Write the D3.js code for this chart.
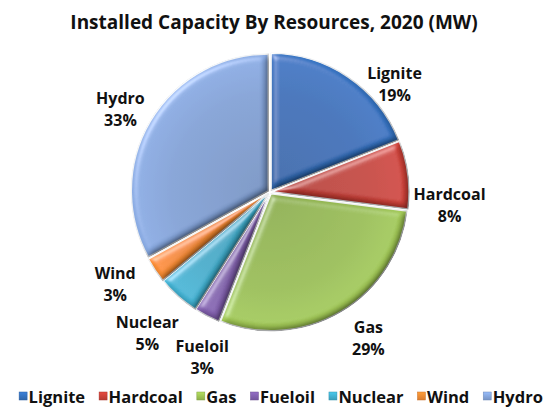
<!DOCTYPE html>
<html><head><meta charset="utf-8">
<script src="https://cdn.jsdelivr.net/npm/d3@7/dist/d3.min.js"></script>
<style>
html,body{margin:0;padding:0;background:#fff;}
svg{display:block;}
text{font-family:"Open Sans",Lato,sans-serif;font-weight:700;fill:#111;}
</style></head>
<body><svg id="c" width="548" height="407"></svg>
<script>
const title = "Installed Capacity By Resources, 2020 (MW)";
const categories = ["Lignite","Hardcoal","Gas","Fueloil","Nuclear","Wind","Hydro"];
const values = [19,8,29,3,5,3,33];
const colors = ["#326cb6","#c23d35","#97bb50","#7c5ca6","#3ea9c7","#ea8430","#7f9ed2"];

// label layout nudges (angle in degrees relative to slice bisector, extra radius)
const labelNudge = [[14.8,28],[11.2,43],[-3.4,39],[-4.6,41],[-0.4,50],[3.5,43],[-1.6,34]];

const W = 548, H = 407, cx = 270, cy = 192, R = 137;
const svg = d3.select("#c");
const defs = svg.append("defs");

// bevel filter
const f = defs.append("filter").attr("id","bevel").attr("x","-10%").attr("y","-10%").attr("width","120%").attr("height","120%");
f.append("feGaussianBlur").attr("in","SourceAlpha").attr("stdDeviation",3.5).attr("result","blur");
const dl = f.append("feDiffuseLighting").attr("in","blur").attr("surfaceScale",4).attr("diffuseConstant",1.25).attr("lighting-color","#fff").attr("result","diff");
dl.append("feDistantLight").attr("azimuth",225).attr("elevation",53);
const sl = f.append("feSpecularLighting").attr("in","blur").attr("surfaceScale",4).attr("specularConstant",0.55).attr("specularExponent",25).attr("lighting-color","#fff").attr("result","spec");
sl.append("feDistantLight").attr("azimuth",225).attr("elevation",45);
f.append("feComposite").attr("in","SourceGraphic").attr("in2","diff").attr("operator","arithmetic").attr("k1",1).attr("k2",0).attr("k3",0).attr("k4",0).attr("result","lit");
f.append("feComposite").attr("in","spec").attr("in2","SourceAlpha").attr("operator","in").attr("result","specIn");
f.append("feComposite").attr("in","lit").attr("in2","specIn").attr("operator","arithmetic").attr("k1",0).attr("k2",1).attr("k3",0.6).attr("k4",0).attr("result","out");
f.append("feComposite").attr("in","out").attr("in2","SourceAlpha").attr("operator","in");

// radial gradients per slice
categories.forEach((c,i)=>{
  const g = defs.append("radialGradient").attr("id","g"+i)
    .attr("gradientUnits","userSpaceOnUse").attr("cx",0).attr("cy",0).attr("r",R);
  const base = d3.color(colors[i]);
  g.append("stop").attr("offset","0%").attr("stop-color",base.darker(0.25));
  g.append("stop").attr("offset","70%").attr("stop-color",base);
  g.append("stop").attr("offset","100%").attr("stop-color",base.brighter(0.2));
});

svg.append("text").attr("x",274).attr("y",22).attr("text-anchor","middle")
  .attr("dominant-baseline","central").style("font-size","19px").text(title);

const pie = d3.pie().sort(null).value(d=>d.v);
const data = pie(categories.map((c,i)=>({c, v:values[i], i})));
const arc = d3.arc().innerRadius(0).outerRadius(R);
const explode = 2;

const gPie = svg.append("g").attr("transform",`translate(${cx},${cy})`);
gPie.selectAll("path").data(data).join("path")
  .attr("transform", d=>{
    const a = (d.startAngle+d.endAngle)/2;
    return `translate(${explode*Math.sin(a)},${-explode*Math.cos(a)})`;
  })
  .attr("d", arc)
  .attr("fill", d=>`url(#g${d.data.i})`)
  .attr("stroke","#eef0f2").attr("stroke-width",1.5)
  .attr("filter","url(#bevel)");

// labels
const lab = svg.append("g");
data.forEach(d=>{
  const [da, dr] = labelNudge[d.data.i];
  const a = (d.startAngle+d.endAngle)/2 + da*Math.PI/180;
  const rr = R + dr;
  const x = cx + rr*Math.sin(a), y = cy - rr*Math.cos(a);
  const t = lab.append("text").attr("x",x).attr("y",y).attr("text-anchor","middle").style("font-size","16px");
  t.append("tspan").attr("x",x).attr("dy","-0.3em").text(d.data.c);
  t.append("tspan").attr("x",x).attr("dy","1.38em").text(Math.round(d.data.v/d3.sum(values)*100)+"%");
});

// legend
categories.forEach((c,i)=>{
  const g = defs.append("linearGradient").attr("id","lg"+i).attr("x1",0).attr("y1",0).attr("x2",0).attr("y2",1);
  const base = d3.color(colors[i]);
  g.append("stop").attr("offset","0%").attr("stop-color",base.brighter(0.5));
  g.append("stop").attr("offset","100%").attr("stop-color",base.darker(0.2));
});
const leg = svg.append("g");
const ly = 396, sq = 8, gapT = 1.5, gapItem = 14;
const items = categories.map((c,i)=>{
  const g = leg.append("g");
  g.append("rect").attr("width",sq).attr("height",sq).attr("y",-sq/2)
    .attr("fill",`url(#lg${i})`).attr("stroke",d3.color(colors[i]).darker(0.4)).attr("stroke-width",0.5);
  const t = g.append("text").attr("x",sq+gapT).attr("y",0).attr("dominant-baseline","central").style("font-size","16.5px").text(c);
  return {g, w: sq+gapT+t.node().getComputedTextLength()};
});
const total = d3.sum(items,d=>d.w) + gapItem*(items.length-1);
let x0 = 281 - total/2;
items.forEach(it=>{ it.g.attr("transform",`translate(${x0},${ly})`); x0 += it.w + gapItem; });
</script></body></html>
